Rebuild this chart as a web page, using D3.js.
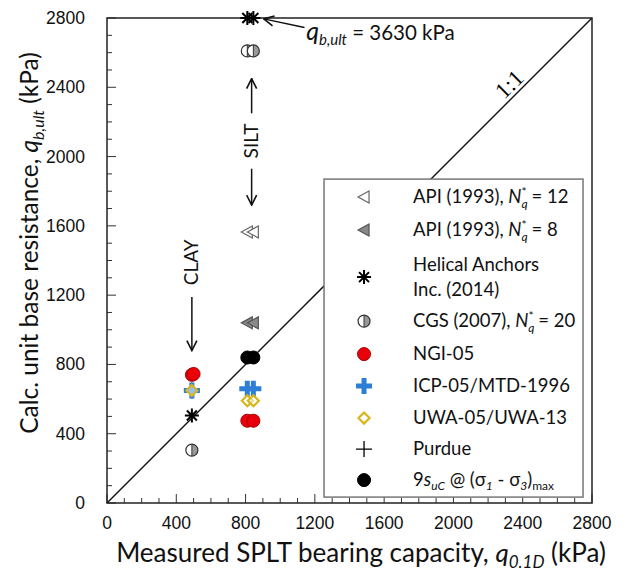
<!DOCTYPE html>
<meta charset='utf-8'>
<head>
    <title>Base resistance</title>
    <script src='https://cdn.jsdelivr.net/npm/d3@7'></script>
</head>

<style>
    body { margin: 0; background: white; }
    .tick-label { font-family: 'Liberation Sans', Arial, sans-serif; font-size: 17.5px; fill: #111; }
    .title { font-family: Lato, 'Open Sans', sans-serif; font-size: 24.5px; fill: #111; }
    .leg { font-family: Lato, 'Open Sans', sans-serif; font-size: 18.5px; fill: #111; }
    .note { font-family: Lato, 'Open Sans', sans-serif; font-size: 19px; fill: #111; }
</style>

<svg></svg>

<script>
    var vWidth = 627;
    var vHeight = 571;

    // values, [measured, calculated] in kPa
    var ticks = [0, 400, 800, 1200, 1600, 2000, 2400, 2800];
    var apiNq12 = [[810, 1565], [845, 1565]];
    var apiNq8 = [[810, 1040], [845, 1040]];
    var helical = [[490, 505], [810, 3630], [845, 3630]];
    var cgs = [[490, 305], [810, 2610], [845, 2610]];
    var ngi = [[490, 740], [500, 745], [810, 475], [845, 475]];
    var purdue = [[490, 650]];
    var icp = [[490, 650], [810, 660], [845, 660]];
    var uwa = [[490, 650], [810, 590], [845, 590]];
    var nineSu = [[810, 840], [845, 840]];

    var m = {left: 107, top: 18, right: 35, bottom: 68};
    var w = vWidth - m.left - m.right;
    var h = vHeight - m.top - m.bottom;

    var svg = d3.select('svg').attr('width', vWidth).attr('height', vHeight);
    var g = svg.append('g').attr('transform', 'translate(' + m.left + ',' + m.top + ')');

    var x = d3.scaleLinear().domain([0, 2800]).range([0, w]);
    var y = d3.scaleLinear().domain([0, 2800]).range([h, 0]).clamp(true);

    // arrow head
    svg.append('defs').append('marker')
        .attr('id', 'arr').attr('viewBox', '0 0 12 12').attr('refX', 11).attr('refY', 6)
        .attr('markerWidth', 12).attr('markerHeight', 12).attr('markerUnits', 'userSpaceOnUse')
        .attr('orient', 'auto')
        .append('path').attr('d', 'M1,1 L11,6 L1,11').attr('fill', 'none')
        .attr('stroke', '#111').attr('stroke-width', 1.6);

    // minor + major ticks, inside
    var minor = d3.range(0, 2801, 100);
    g.selectAll('.ty').data(minor).enter().append('line')
        .attr('x1', 0).attr('x2', function(d) { return d % 400 ? 5 : 9; })
        .attr('y1', function(d) { return y(d); }).attr('y2', function(d) { return y(d); })
        .attr('stroke', '#333').attr('stroke-width', 1);
    g.selectAll('.tx').data(minor).enter().append('line')
        .attr('y1', h).attr('y2', function(d) { return h - (d % 400 ? 5 : 9); })
        .attr('x1', function(d) { return x(d); }).attr('x2', function(d) { return x(d); })
        .attr('stroke', '#333').attr('stroke-width', 1);

    g.selectAll('.ly').data(ticks).enter().append('text').attr('class', 'tick-label')
        .attr('x', -22).attr('y', function(d) { return y(d) + 6; })
        .attr('text-anchor', 'end').text(function(d) { return d; });
    g.selectAll('.lx').data(ticks).enter().append('text').attr('class', 'tick-label')
        .attr('x', function(d) { return x(d); }).attr('y', h + 26)
        .attr('text-anchor', 'middle').text(function(d) { return d; });

    // 1:1 line
    g.append('line').attr('x1', x(0)).attr('y1', y(0)).attr('x2', x(2800)).attr('y2', y(2800))
        .attr('stroke', '#111').attr('stroke-width', 1.5);
    g.append('text').attr('transform', 'translate(' + x(2370) + ',' + y(2370) + ') rotate(-45)')
        .attr('text-anchor', 'middle').attr('dy', -4)
        .style('font-family', "'Liberation Serif', serif").style('font-size', '23px').text('1:1');

    // frame
    g.append('rect').attr('width', w).attr('height', h).attr('fill', 'none')
        .attr('stroke', '#222').attr('stroke-width', 1.5);

    // marker painters
    function tri(sel, fill, stroke) {
        sel.append('path').attr('d', 'M-6,0 L5,-6 L5,6 Z')
            .attr('fill', fill).attr('stroke', stroke).attr('stroke-width', 1.2);
    }
    function star(sel) {
        sel.append('path').attr('d', 'M0,-7 L0,7 M-7,0 L7,0 M-5,-5 L5,5 M-5,5 L5,-5')
            .attr('stroke', '#000').attr('stroke-width', 2);
    }
    function half(sel) {
        sel.append('circle').attr('r', 6).attr('fill', 'white');
        sel.append('path').attr('d', 'M0,-6 A6,6 0 0 1 0,6 Z').attr('fill', '#999');
        sel.append('circle').attr('r', 6).attr('fill', 'none').attr('stroke', '#333').attr('stroke-width', 1.2);
        sel.append('line').attr('y1', -6).attr('y2', 6).attr('stroke', '#333');
    }
    function dot(fill, stroke) {
        return function(sel) {
            sel.append('circle').attr('r', 6.5).attr('fill', fill).attr('stroke', stroke).attr('stroke-width', 1);
        };
    }
    function bluePlus(sel) {
        sel.append('path').attr('d', 'M0,-8 L0,8 M-8,0 L8,0')
            .attr('stroke', '#2d7ed6').attr('stroke-width', 5);
    }
    function diamond(sel) {
        sel.append('path').attr('d', 'M0,-5.5 L5.5,0 L0,5.5 L-5.5,0 Z')
            .attr('fill', 'white').attr('fill-opacity', 0.5)
            .attr('stroke', '#d9b51c').attr('stroke-width', 2.2);
    }
    function thinPlus(sel) {
        sel.append('path').attr('d', 'M0,-8 L0,8 M-8,0 L8,0')
            .attr('stroke', '#000').attr('stroke-width', 1.3);
    }

    var series = [
        {data: apiNq12, draw: function(s) { tri(s, 'white', '#666'); }},
        {data: apiNq8, draw: function(s) { tri(s, '#888', '#555'); }},
        {data: helical, draw: star},
        {data: cgs, draw: half},
        {data: nineSu, draw: dot('#000', '#000')},
        {data: purdue, draw: thinPlus},
        {data: icp, draw: bluePlus},
        {data: uwa, draw: diamond},
        {data: ngi, draw: dot('#e8000b', '#a00')}
    ];
    series.forEach(function(s) {
        g.selectAll(null).data(s.data).enter().append('g')
            .attr('transform', function(d) { return 'translate(' + x(d[0]) + ',' + y(d[1]) + ')'; })
            .call(s.draw);
    });

    // annotations
    g.append('line').attr('x1', x(1140)).attr('y1', y(2745)).attr('x2', x(905)).attr('y2', y(2795))
        .attr('stroke', '#111').attr('stroke-width', 1.5).attr('marker-end', 'url(#arr)');
    var qt = g.append('text').attr('class', 'note').attr('x', x(1150)).attr('y', y(2675))
        .style('font-size', '20.5px');
    qt.append('tspan').style('font-style', 'italic').style('font-size', '25px').text('q');
    qt.append('tspan').style('font-style', 'italic').style('font-size', '15px').attr('dy', 5).text('b,ult');
    qt.append('tspan').attr('dy', -5).text(' = 3630 kPa');

    function vArrow(xv, y0, y1) {
        g.append('line').attr('x1', x(xv)).attr('x2', x(xv)).attr('y1', y(y0)).attr('y2', y(y1))
            .attr('stroke', '#111').attr('stroke-width', 1.5).attr('marker-end', 'url(#arr)');
    }
    vArrow(835, 2250, 2450);
    vArrow(835, 1930, 1720);
    g.append('text').attr('class', 'note').attr('text-anchor', 'middle')
        .attr('transform', 'translate(' + (x(835) + 6) + ',' + y(2090) + ') rotate(-90)').text('SILT');
    vArrow(490, 1190, 880);
    g.append('text').attr('class', 'note').attr('text-anchor', 'middle')
        .attr('transform', 'translate(' + (x(490) + 6) + ',' + y(1390) + ') rotate(-90)').text('CLAY');

    // legend
    var lg = g.append('g').attr('transform', 'translate(' + x(1253) + ',' + y(1870) + ')');
    lg.append('rect').attr('width', 259).attr('height', 318).attr('fill', 'white')
        .attr('stroke', '#777').attr('stroke-width', 1.5);
    var legRows = [
        {y: 18, draw: function(s) { tri(s, 'white', '#666'); }, t: 'nq', n: '12'},
        {y: 51, draw: function(s) { tri(s, '#888', '#555'); }, t: 'nq', n: '8'},
        {y: 98, draw: star, t: 'two', a: 'Helical Anchors', b: 'Inc. (2014)'},
        {y: 142, draw: half, t: 'cgs'},
        {y: 175, draw: dot('#e8000b', '#a00'), t: 'plain', a: 'NGI-05'},
        {y: 207, draw: bluePlus, t: 'plain', a: 'ICP-05/MTD-1996'},
        {y: 239, draw: diamond, t: 'plain', a: 'UWA-05/UWA-13'},
        {y: 270, draw: thinPlus, t: 'plain', a: 'Purdue'},
        {y: 301, draw: dot('#000', '#000'), t: 'su'}
    ];
    legRows.forEach(function(r) {
        lg.append('g').attr('transform', 'translate(40,' + r.y + ')').call(r.draw);
        var t = lg.append('text').attr('class', 'leg').attr('x', 89).attr('y', r.y + 6);
        if (r.t === 'plain') t.text(r.a);
        if (r.t === 'two') {
            t.attr('y', r.y - 6).text(r.a);
            lg.append('text').attr('class', 'leg').attr('x', 89).attr('y', r.y + 19).text(r.b);
        }
        if (r.t === 'nq' || r.t === 'cgs') {
            t.append('tspan').text(r.t === 'nq' ? 'API (1993), ' : 'CGS (2007), ');
            t.append('tspan').style('font-style', 'italic').text('N');
            t.append('tspan').style('font-style', 'italic').style('font-size', '12px').attr('dy', 5).text('q');
            t.append('tspan').style('font-size', '12px').attr('dy', -12).attr('dx', -6).text('*');
            t.append('tspan').attr('dy', 7).text(' = ' + (r.t === 'nq' ? r.n : '20'));
        }
        if (r.t === 'su') {
            t.append('tspan').text('9');
            t.append('tspan').style('font-style', 'italic').text('s');
            t.append('tspan').style('font-style', 'italic').style('font-size', '12px').attr('dy', 4).text('uC');
            t.append('tspan').attr('dy', -4).text(' @ (\u03c3');
            t.append('tspan').style('font-style', 'italic').style('font-size', '12px').attr('dy', 4).text('1');
            t.append('tspan').attr('dy', -4).text(' - \u03c3');
            t.append('tspan').style('font-style', 'italic').style('font-size', '12px').attr('dy', 4).text('3');
            t.append('tspan').attr('dy', -4).text(')');
            t.append('tspan').style('font-size', '12px').attr('dy', 4).text('max');
        }
    });

    // axis titles
    var xt = svg.append('text').attr('class', 'title').attr('x', 361).attr('y', vHeight - 9)
        .attr('text-anchor', 'middle').style('font-size', '26px');
    xt.append('tspan').text('Measured SPLT bearing capacity, ');
    xt.append('tspan').style('font-style', 'italic').text('q');
    xt.append('tspan').style('font-style', 'italic').style('font-size', '17px').attr('dy', 6).text('0.1D');
    xt.append('tspan').attr('dy', -6).text(' (kPa)');

    var yt = svg.append('text').attr('class', 'title').attr('text-anchor', 'middle')
        .attr('transform', 'translate(38,243) rotate(-90)');
    yt.append('tspan').text('Calc. unit base resistance, ');
    yt.append('tspan').style('font-style', 'italic').text('q');
    yt.append('tspan').style('font-style', 'italic').style('font-size', '16px').attr('dy', 6).text('b,ult');
    yt.append('tspan').attr('dy', -6).text(' (kPa)');
</script>
